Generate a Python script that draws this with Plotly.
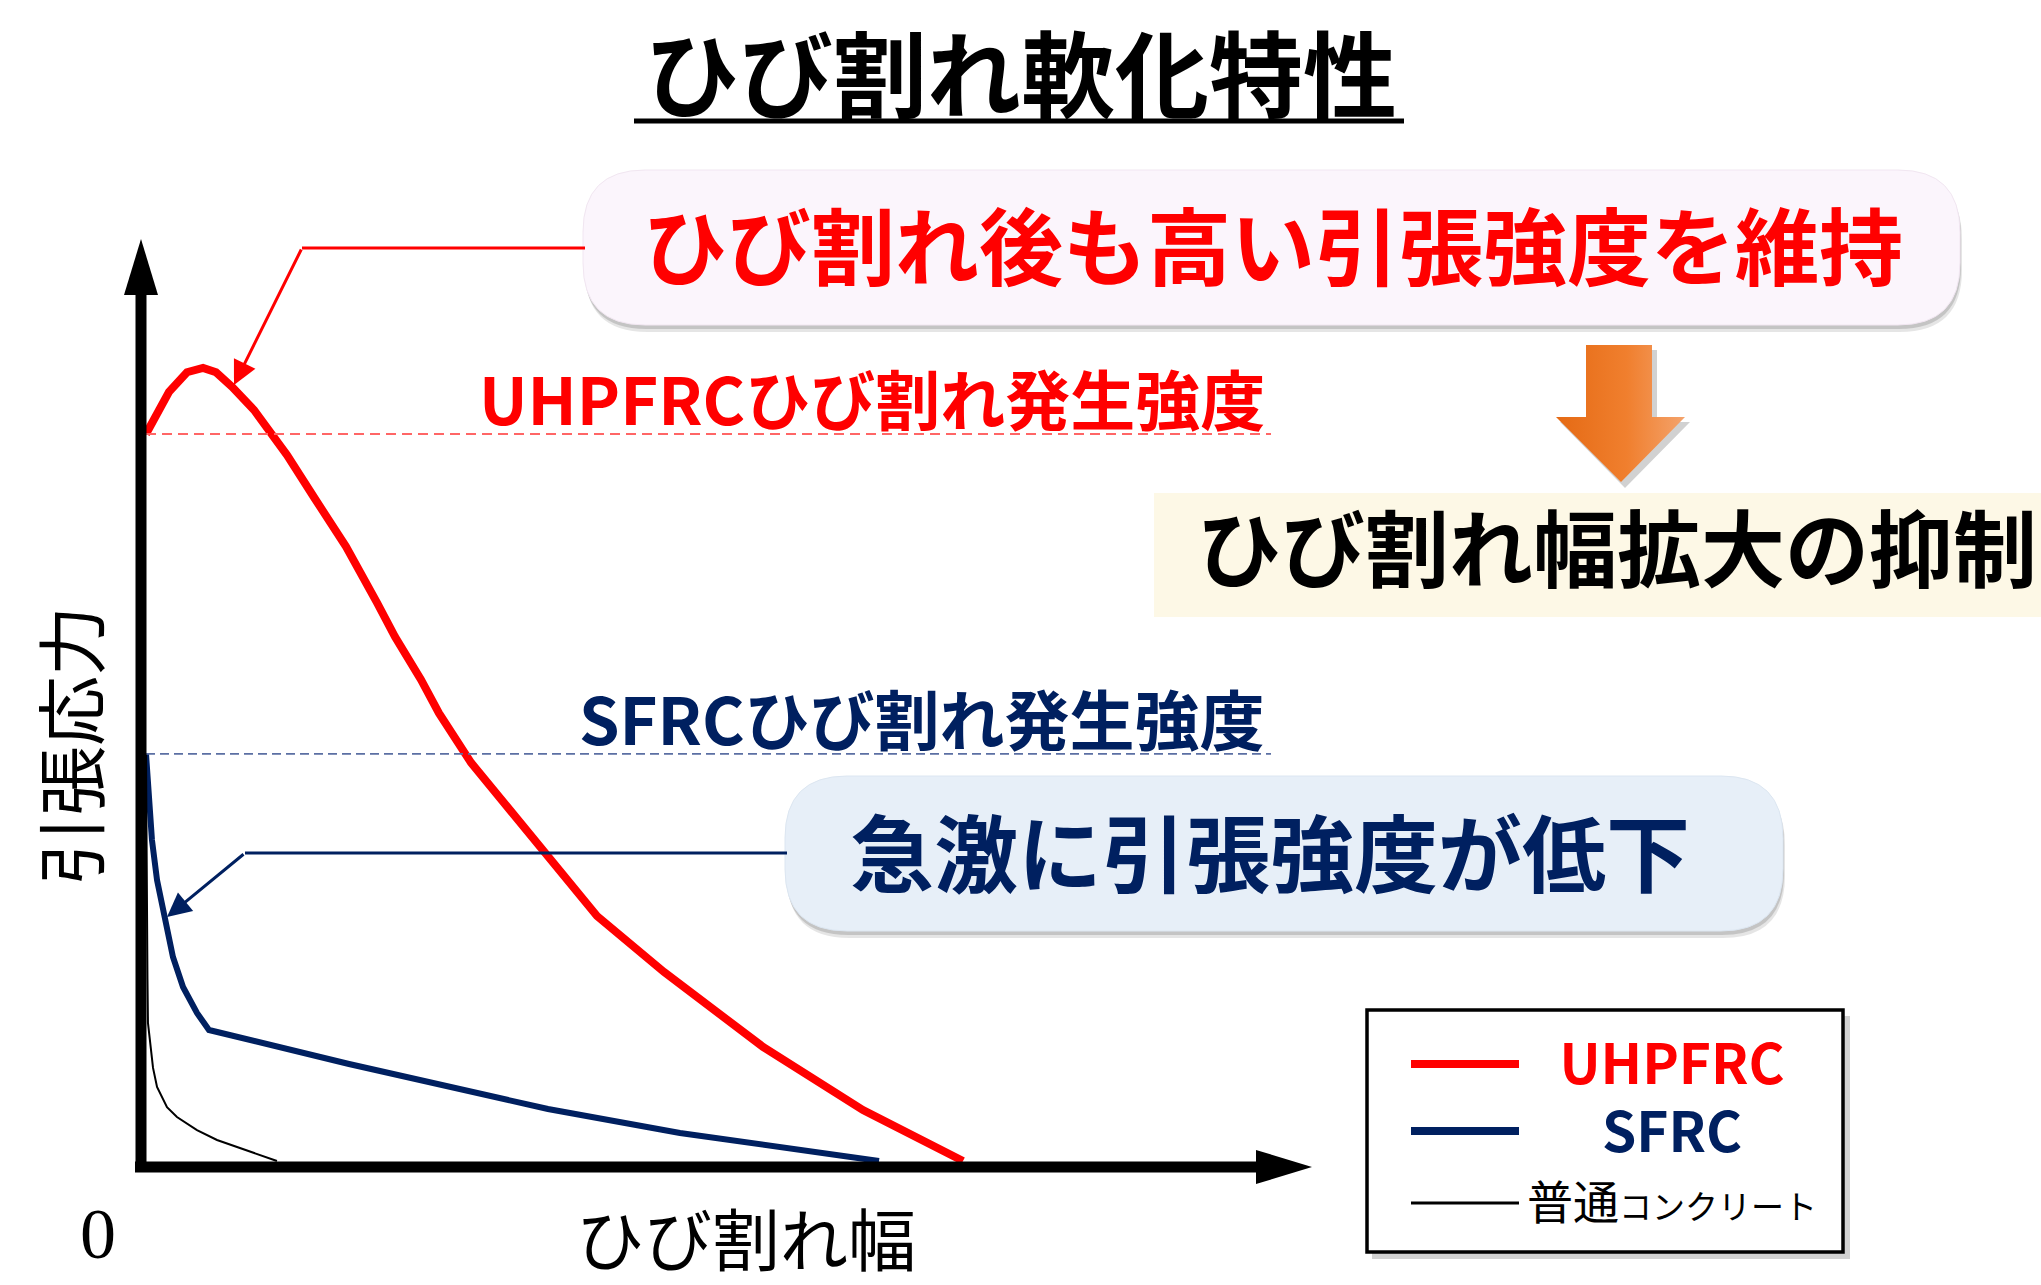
import plotly.graph_objects as go

W, H = 2041, 1285

# ---------------- data (crack width vs tensile stress, normalized) ----------------
uhpfrc_width = [0.0, 0.0282, 0.0502, 0.0698, 0.0857, 0.1053, 0.1322, 0.1726, 0.2056,
                0.2448, 0.2827, 0.3048, 0.3366, 0.3586, 0.3978, 0.4357, 0.4920, 0.5520,
                0.6340, 0.7552, 0.8776, 1.0]
uhpfrc_stress = [1.0, 1.058, 1.085, 1.091, 1.085, 1.065, 1.033, 0.971, 0.913,
                 0.845, 0.768, 0.721, 0.662, 0.616, 0.548, 0.497, 0.418, 0.337,
                 0.260, 0.157, 0.070, 0.0]

sfrc_width = [0.0, 0.0049, 0.0073, 0.0135, 0.0233, 0.0330, 0.0453, 0.0624, 0.0771,
              0.2485, 0.4920, 0.6536, 0.8972]
sfrc_stress = [0.56, 0.480, 0.4415, 0.3865, 0.3315, 0.2806, 0.2393, 0.2036, 0.1802,
               0.1334, 0.0715, 0.0385, 0.0]

nc_width = [0.0, 0.0008, 0.0018, 0.0024, 0.0086, 0.0135, 0.0257, 0.0379, 0.0624,
            0.0869, 0.1151, 0.1603]
nc_stress = [0.56, 0.35, 0.25, 0.19, 0.128, 0.102, 0.074, 0.0605, 0.0426,
             0.0289, 0.0179, 0.0]

uhpfrc_crack_strength = 1.0
sfrc_crack_strength = 0.56

series_names = ["UHPFRC", "SFRC", "普通コンクリート"]
series_colors = ["#FF0000", "#002060", "#000000"]
series_widths = [8, 6, 2]

# ---------------- frame geometry (pixels) ----------------
X0, XS = 146, 817      # pixel of crack width 0, pixels per unit
Y0, YS = 1161, 727     # pixel of stress 0, pixels per unit
DASH_END_PX = 1271

NAVY = "#002060"
RED = "#FF0000"
JP = "Noto Sans CJK JP"

fig = go.Figure()

for w, s, name, c, lw in zip([uhpfrc_width, sfrc_width, nc_width],
                             [uhpfrc_stress, sfrc_stress, nc_stress],
                             series_names, series_colors, series_widths):
    fig.add_trace(go.Scatter(x=w, y=s, mode="lines", name=name,
                             line=dict(color=c, width=lw), showlegend=False,
                             hoverinfo="skip"))

# orange arrow (decor, pixel axes)
ax_x = [1586, 1652, 1652, 1685, 1621, 1556, 1586, 1586]
ax_y = [345, 345, 417, 417, 482, 417, 417, 345]
fig.add_trace(go.Scatter(x=ax_x, y=ax_y, xaxis="x2", yaxis="y2", mode="lines",
                         fill="toself", line=dict(width=0, color="rgba(0,0,0,0)"),
                         fillgradient=dict(type="horizontal",
                                           colorscale=[[0, "#E56A14"], [0.55, "#F07F2E"], [1, "#F4A36C"]]),
                         showlegend=False, hoverinfo="skip"))

shapes = []


def rrect(x0, y0, x1, y1, r):
    return (f"M{x0+r},{y0} L{x1-r},{y0} Q{x1},{y0} {x1},{y0+r} L{x1},{y1-r} "
            f"Q{x1},{y1} {x1-r},{y1} L{x0+r},{y1} Q{x0},{y1} {x0},{y1-r} "
            f"L{x0},{y0+r} Q{x0},{y0} {x0+r},{y0} Z")


def px_shape(**kw):
    d = dict(xref="x2", yref="y2")
    d.update(kw)
    shapes.append(d)


# shadows + boxes
for dx, dy, a in [(2, 7, 0.10), (1, 4, 0.14)]:
    px_shape(type="path", path=rrect(583 + dx, 170 + dy, 1960 + dx, 325 + dy, 62),
             fillcolor=f"rgba(0,0,0,{a})", line=dict(width=0), layer="below")
px_shape(type="path", path=rrect(583, 170, 1960, 325, 62), fillcolor="#FBF5FC",
         line=dict(width=1, color="#F1E6F1"), layer="below")

for dx, dy, a in [(2, 7, 0.10), (1, 4, 0.14)]:
    px_shape(type="path", path=rrect(785 + dx, 776 + dy, 1783 + dx, 931 + dy, 62),
             fillcolor=f"rgba(0,0,0,{a})", line=dict(width=0), layer="below")
px_shape(type="path", path=rrect(785, 776, 1783, 931, 62), fillcolor="#E7EFF8",
         line=dict(width=1, color="#DCE6F1"), layer="below")

px_shape(type="rect", x0=1154, y0=493, x1=2045, y1=617, fillcolor="#FDF8E6",
         line=dict(width=0), layer="below")

# orange arrow shadow
px_shape(type="path",
         path="M1590,350 L1657,350 L1657,422 L1690,422 L1625,488 L1560,422 L1590,422 Z",
         fillcolor="rgba(0,0,0,0.18)", line=dict(width=0), layer="below")

# legend box
px_shape(type="rect", x0=1372, y0=1016, x1=1850, y1=1259, fillcolor="rgba(0,0,0,0.18)",
         line=dict(width=0), layer="below")
px_shape(type="rect", x0=1367, y0=1010, x1=1843, y1=1252, fillcolor="white",
         line=dict(width=3.5, color="black"), layer="below")
for yy, c, lw in zip([1064, 1131, 1203], series_colors, [8, 8, 3]):
    px_shape(type="line", x0=1411, x1=1519, y0=yy, y1=yy, line=dict(color=c, width=lw))

# title underline
px_shape(type="line", x0=634, x1=1404, y0=121, y1=121, line=dict(color="black", width=5))

# dashed reference lines (data coords)
dash_end = (DASH_END_PX - X0) / XS
shapes.append(dict(type="line", xref="x", yref="y", x0=0, x1=dash_end,
                   y0=uhpfrc_crack_strength, y1=uhpfrc_crack_strength,
                   line=dict(color="#FF6666", width=1.8, dash="10px,6px")))
shapes.append(dict(type="line", xref="x", yref="y", x0=0, x1=dash_end,
                   y0=sfrc_crack_strength, y1=sfrc_crack_strength,
                   line=dict(color="#5B6FA3", width=1.8, dash="9px,5px")))

# callout horizontal segments
px_shape(type="line", x0=302, x1=585, y0=248, y1=248, line=dict(color=RED, width=3))
px_shape(type="line", x0=245, x1=787, y0=853, y1=853, line=dict(color=NAVY, width=3))

# axes with arrow heads
px_shape(type="line", x0=141, x1=141, y0=1172, y1=292, line=dict(color="black", width=11), layer="above")
px_shape(type="path", path="M141,239 L124,295 L158,295 Z", fillcolor="black",
         line=dict(width=0), layer="above")
px_shape(type="line", x0=135, x1=1258, y0=1167, y1=1167, line=dict(color="black", width=11), layer="above")
px_shape(type="path", path="M1312,1167 L1256,1150 L1256,1184 Z", fillcolor="black",
         line=dict(width=0), layer="above")

annotations = []


def txt(x, y, text, size, color="black", bold=True, family=JP, xanchor="center",
        yanchor="middle", angle=0):
    annotations.append(dict(x=x, y=y, xref="x2", yref="y2", text=text, showarrow=False,
                            xanchor=xanchor, yanchor=yanchor, textangle=angle, align="center",
                            font=dict(family=family, size=size, color=color,
                                      weight=700 if bold else 400)))


txt(1021, 70, "ひび割れ軟化特性", 94)
txt(1273, 242, "ひび割れ後も高い引張強度を維持", 84, RED)
txt(1617, 544, "ひび割れ幅拡大の抑制", 84)
txt(1270, 849, "急激に引張強度が低下", 84, NAVY)
txt(1267, 397, "UHPFRCひび割れ発生強度", 65, RED, xanchor="right")
txt(1267, 717, "SFRCひび割れ発生強度", 65, NAVY, xanchor="right")

# legend labels (one text block, three lines)
legend_text = (
    f'<span style="color:{RED};font-weight:bold;font-size:55px">{series_names[0]}</span><br>'
    f'<span style="color:{NAVY};font-weight:bold;font-size:55px">{series_names[1]}</span><br>'
    f'<span style="font-size:46px">普通</span><span style="font-size:33px">コンクリート</span>'
)
txt(1672, 1126, legend_text, 52, "black", bold=False)

txt(98, 1234, "0", 72, bold=False, family="Liberation Serif")
txt(746, 1236, "ひび割れ幅", 68, bold=False)
txt(68, 746, "引張応力", 70, bold=False, angle=-90)

# callout arrows
annotations.append(dict(x=234, y=385, ax=302, ay=248, xref="x2", yref="y2",
                        axref="x2", ayref="y2", text="", showarrow=True,
                        arrowhead=2, arrowsize=1.6, arrowwidth=3, arrowcolor=RED))
annotations.append(dict(x=167, y=917, ax=245, ay=853, xref="x2", yref="y2",
                        axref="x2", ayref="y2", text="", showarrow=True,
                        arrowhead=2, arrowsize=1.6, arrowwidth=3, arrowcolor=NAVY))

fig.update_layout(
    width=W, height=H, margin=dict(l=0, r=0, t=0, b=0),
    paper_bgcolor="white", plot_bgcolor="white", showlegend=False,
    xaxis=dict(domain=[0, 1], range=[(0 - X0) / XS, (W - X0) / XS], visible=False,
               fixedrange=True),
    yaxis=dict(domain=[0, 1], range=[(Y0 - H) / YS, Y0 / YS], visible=False,
               fixedrange=True),
    xaxis2=dict(domain=[0, 1], range=[0, W], overlaying="x", anchor="y2", visible=False),
    yaxis2=dict(domain=[0, 1], range=[H, 0], overlaying="y", anchor="x2", visible=False),
    shapes=shapes, annotations=annotations,
)

fig.write_html("out.html", config={"displayModeBar": False},
               post_script="document.body.style.margin='0';document.body.style.overflow='hidden';")
